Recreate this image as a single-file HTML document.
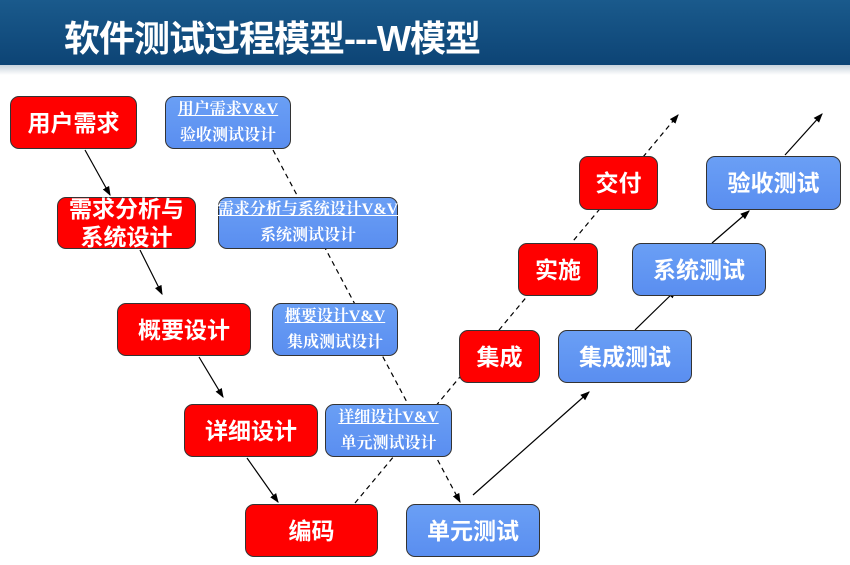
<!DOCTYPE html>
<html><head><meta charset="utf-8"><style>
body{margin:0;width:850px;height:565px;overflow:hidden;background:#fff;font-family:"Liberation Sans","Noto Sans CJK SC",sans-serif;position:relative}
.hd{position:absolute;left:0;top:0;width:850px;height:65px;background:linear-gradient(#1a5a8c,#0d4475);}
.hd:after{content:"";position:absolute;left:0;top:65px;width:850px;height:10px;background:linear-gradient(#c8d2dc,#fff)}
.t{position:absolute;left:64px;top:10px;color:#fff;font-size:36px;font-weight:bold;letter-spacing:-1px;white-space:nowrap}
.b{position:absolute;box-sizing:border-box;border:1.5px solid #333;border-radius:9px;color:#fff;display:flex;align-items:center;justify-content:center;text-align:center;font-size:23px;line-height:28px;font-weight:bold}
.r{background:#f00}
.u{background:linear-gradient(#6a9ff5,#5a8ef0)}
.s{font-size:16px;line-height:26px;flex-direction:column;font-family:"Liberation Serif","Noto Serif CJK SC",serif;font-weight:bold;white-space:nowrap}
.s span:first-child{text-decoration:underline}
svg{position:absolute;left:0;top:0}
</style></head><body>
<div class="hd"><div class="t">软件测试过程模型---W模型</div></div>
<svg width="850" height="565"><defs><marker id="a" markerWidth="8" markerHeight="8" refX="7" refY="4" orient="auto"><path d="M0,1 L8,4 L0,7z" fill="#000"/></marker></defs>
<g stroke="#000" stroke-width="1.2" fill="none" marker-end="url(#a)">
<line x1="85" y1="150" x2="110" y2="195"/><line x1="140" y1="250" x2="162" y2="294"/><line x1="199" y1="357" x2="223" y2="397"/><line x1="247" y1="458" x2="278" y2="502"/>
<line x1="273" y1="150" x2="460" y2="502" stroke-dasharray="5,4"/><line x1="355" y1="503" x2="678" y2="115" stroke-dasharray="5,4"/>
<line x1="473" y1="495" x2="589" y2="392"/><line x1="635" y1="330" x2="676" y2="290"/><line x1="712" y1="243" x2="749" y2="211"/><line x1="785" y1="155" x2="822" y2="114"/>
</g></svg>
<div class="b r" style="left:10px;top:96px;width:127px;height:53px">用户需求</div>
<div class="b u s" style="left:165px;top:96px;width:126px;height:53px"><span>用户需求V&amp;V</span><span>验收测试设计</span></div>
<div class="b r" style="left:57px;top:197px;width:139px;height:52px">需求分析与<br>系统设计</div>
<div class="b u s" style="left:218px;top:197px;width:180px;height:52px"><span>需求分析与系统设计V&amp;V</span><span>系统测试设计</span></div>
<div class="b r" style="left:117px;top:303px;width:134px;height:53px">概要设计</div>
<div class="b u s" style="left:272px;top:303px;width:126px;height:53px"><span>概要设计V&amp;V</span><span>集成测试设计</span></div>
<div class="b r" style="left:184px;top:404px;width:134px;height:53px">详细设计</div>
<div class="b u s" style="left:325px;top:404px;width:127px;height:53px"><span>详细设计V&amp;V</span><span>单元测试设计</span></div>
<div class="b r" style="left:245px;top:504px;width:133px;height:53px">编码</div>
<div class="b u" style="left:406px;top:504px;width:134px;height:53px">单元测试</div>
<div class="b r" style="left:459px;top:330px;width:81px;height:53px">集成</div>
<div class="b u" style="left:558px;top:330px;width:134px;height:53px">集成测试</div>
<div class="b r" style="left:518px;top:243px;width:80px;height:53px">实施</div>
<div class="b u" style="left:632px;top:243px;width:134px;height:53px">系统测试</div>
<div class="b r" style="left:579px;top:156px;width:79px;height:54px">交付</div>
<div class="b u" style="left:706px;top:156px;width:135px;height:54px">验收测试</div>
</body></html>
